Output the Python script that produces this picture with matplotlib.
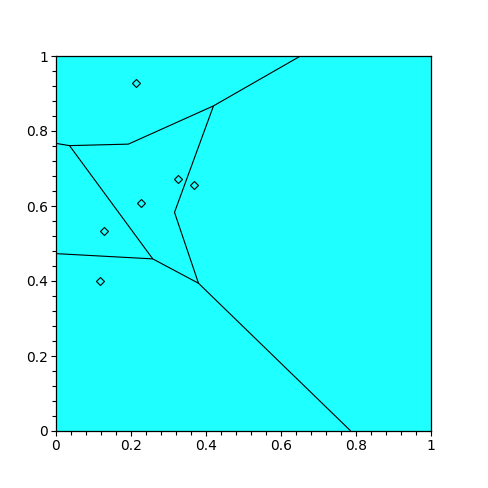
import matplotlib.pyplot as plt
from matplotlib.ticker import MultipleLocator

# sitios (puntos)
px = [0.212, 0.324, 0.367, 0.227, 0.127, 0.117]
py = [0.929, 0.673, 0.657, 0.609, 0.534, 0.400]

# aristas del diagrama (polilineas)
edge_top_x = [0.0, 0.036, 0.193, 0.420, 0.652]
edge_top_y = [0.767, 0.761, 0.765, 0.867, 1.0]
edge_mid_x = [0.420, 0.316, 0.380, 0.786]
edge_mid_y = [0.867, 0.583, 0.394, 0.0]
edge_left_x = [0.036, 0.258, 0.380]
edge_left_y = [0.761, 0.459, 0.394]
edge_low_x = [0.0, 0.258]
edge_low_y = [0.473, 0.459]

cian = '#1effff'

fig = plt.figure(figsize=(4.88, 4.88), dpi=100)
ax = fig.add_axes([56/488, 57/488, 375/488, 375/488])
ax.set_xlim(0, 1)
ax.set_ylim(0, 1)
ax.set_facecolor(cian)

for xs, ys in [(edge_top_x, edge_top_y), (edge_mid_x, edge_mid_y),
               (edge_left_x, edge_left_y), (edge_low_x, edge_low_y)]:
    ax.plot(xs, ys, color='black', lw=0.8, solid_capstyle='butt')

ax.plot(px, py, linestyle='none', marker='D', markersize=3.8,
        markerfacecolor='none', markeredgecolor='black', markeredgewidth=0.8)

for s in ax.spines.values():
    s.set_linewidth(0.9)

ax.xaxis.set_major_locator(MultipleLocator(0.2))
ax.yaxis.set_major_locator(MultipleLocator(0.2))
ax.xaxis.set_minor_locator(MultipleLocator(0.04))
ax.yaxis.set_minor_locator(MultipleLocator(0.04))
ax.set_xticks([0, 0.2, 0.4, 0.6, 0.8, 1.0])
ax.set_xticklabels(['0', '0.2', '0.4', '0.6', '0.8', '1'])
ax.set_yticks([0, 0.2, 0.4, 0.6, 0.8, 1.0])
ax.set_yticklabels(['0', '0.2', '0.4', '0.6', '0.8', '1'])
ax.tick_params(which='major', direction='out', length=3.5, width=0.8,
               labelsize=10, pad=2)
ax.tick_params(which='minor', direction='out', length=3, width=0.8)

fig.savefig('out.png', dpi=100)
